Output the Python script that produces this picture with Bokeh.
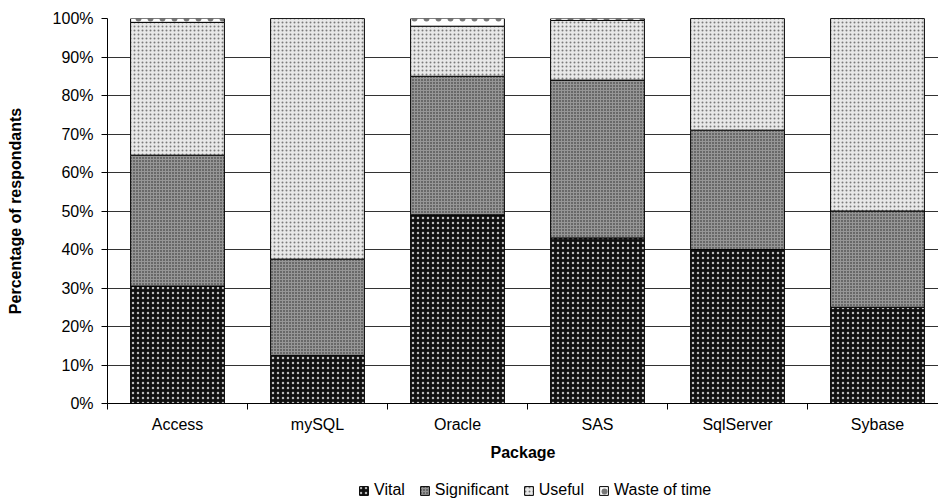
import numpy as np
from bokeh.plotting import figure
from bokeh.layouts import column
from bokeh.models import FixedTicker, Legend, LegendItem, Range1d
from bokeh.embed import file_html
from bokeh.resources import INLINE

packages = ["Access", "mySQL", "Oracle", "SAS", "SqlServer", "Sybase"]
vital = [30.5, 12.5, 49.0, 43.0, 40.0, 25.0]
significant = [34.0, 25.0, 36.0, 41.0, 31.0, 25.0]
useful = [34.5, 62.5, 13.0, 15.5, 29.0, 50.0]
waste = [1.0, 0.0, 2.0, 0.5, 0.0, 0.0]
series_names = ["Vital", "Significant", "Useful", "Waste of time"]
y_ticks = [0, 10, 20, 30, 40, 50, 60, 70, 80, 90, 100]
y_tick_labels = ["0%", "10%", "20%", "30%", "40%", "50%", "60%", "70%", "80%", "90%", "100%"]

FONT = "Liberation Sans"
FS = "16px"

n = len(packages)
centers = [i + 0.5 for i in range(n)]
edges = [float(i) for i in range(n + 1)]

p = figure(width=938, height=470, output_backend="svg", toolbar_location=None,
           x_range=Range1d(0, 831 / 140), y_range=Range1d(0, 100),
           min_border_left=107, min_border_top=18, min_border_right=0, min_border_bottom=67)
p.outline_line_color = None
p.background_fill_color = "white"

styles = [
    dict(fill_color="#111111", hatch_pattern="dot", hatch_color="#bbbbbb", hatch_scale=5, hatch_weight=1.2),
    dict(fill_color="#969696", hatch_pattern="dot", hatch_color="#222222", hatch_scale=3, hatch_weight=1.0),
    dict(fill_color="#e8e8e8", hatch_pattern="dot", hatch_color="#7a7a7a", hatch_scale=4, hatch_weight=1.6),
    dict(fill_color="#ffffff", hatch_pattern="dot", hatch_color="#777777", hatch_scale=12, hatch_weight=0.8),
]

# legend strip below the chart; it re-draws the same series out of its view,
# so that its legend swatches carry the bar styles
pl = figure(width=938, height=30, output_backend="svg", toolbar_location=None,
            x_range=Range1d(0, 831 / 140), y_range=Range1d(1000, 1001),
            x_axis_type=None, y_axis_type=None,
            min_border_left=107, min_border_right=0, min_border_top=0, min_border_bottom=0)
pl.outline_line_color = None
pl.grid.visible = False

data = [vital, significant, useful, waste]
bottoms = np.zeros(n)
swatches = []
for vals, st in zip(data, styles):
    tops = bottoms + np.array(vals)
    p.vbar(x=centers, bottom=list(bottoms), top=list(tops), width=0.67,
           line_color="black", line_width=1, **st)
    swatches.append(pl.vbar(x=centers, bottom=list(bottoms), top=list(tops), width=0.67,
                            line_color="black", line_width=1, **st))
    bottoms = tops

# axes
p.yaxis.ticker = FixedTicker(ticks=y_ticks)
p.yaxis.major_label_overrides = {t: l for t, l in zip(y_ticks, y_tick_labels)}
p.yaxis.minor_tick_line_color = None
p.yaxis.major_tick_in = 0
p.yaxis.major_tick_out = 6
p.yaxis.major_label_standoff = 8
p.yaxis.axis_label = "Percentage of respondants"
p.yaxis.axis_label_standoff = 26
p.yaxis.axis_label_text_font_style = "bold"

p.xaxis.ticker = FixedTicker(ticks=centers, minor_ticks=edges)
p.xaxis.major_label_overrides = {c: name for c, name in zip(centers, packages)}
p.xaxis.major_tick_line_color = None
p.xaxis.major_tick_in = 0
p.xaxis.major_tick_out = 0
p.xaxis.minor_tick_in = 0
p.xaxis.minor_tick_out = 6
p.xaxis.minor_tick_line_color = "black"
p.xaxis.major_label_standoff = 6
p.xaxis.axis_label = "Package"
p.xaxis.axis_label_standoff = 8
p.xaxis.axis_label_text_font_style = "bold"

for ax in (p.xaxis, p.yaxis):
    ax.axis_line_color = "black"
    ax.axis_line_width = 1
    ax.major_label_text_font = FONT
    ax.major_label_text_font_size = FS
    ax.major_label_text_color = "black"
    ax.axis_label_text_font = FONT
    ax.axis_label_text_font_size = FS
    ax.axis_label_text_color = "black"
p.yaxis.major_tick_line_color = "black"

p.xgrid.grid_line_color = None
p.ygrid.ticker = FixedTicker(ticks=y_ticks)
p.ygrid.grid_line_color = "#333333"
p.ygrid.grid_line_width = 1

legend = Legend(items=[LegendItem(label=nm, renderers=[r]) for nm, r in zip(series_names, swatches)],
                orientation="horizontal", location=(251, 1),
                label_text_font=FONT, label_text_font_size=FS, label_text_color="black",
                glyph_width=11, glyph_height=11, label_standoff=5, spacing=14,
                padding=0, margin=0, border_line_color=None, background_fill_alpha=0,
                label_height=16)
pl.add_layout(legend, "center")

layout = column(p, pl, spacing=0)
open("out.html", "w").write(file_html(layout, INLINE))
